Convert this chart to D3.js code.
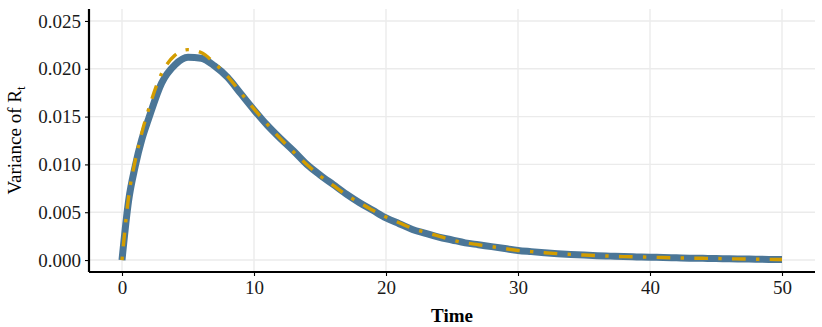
<!DOCTYPE html>
<html>
<head>
<meta charset="utf-8">
<script src="https://cdn.jsdelivr.net/npm/d3@7"></script>
<style>
  html, body { margin: 0; padding: 0; background: #fff; }
  svg { display: block; }
  text { font-family: "Liberation Serif", "Times New Roman", serif; }
</style>
</head>
<body>
<svg id="chart" width="822" height="327"></svg>
<script>
// Time points (days)
const time = [0, 0.5, 1, 1.5, 2, 3, 4, 5, 6, 7, 8, 9, 10, 11, 12, 13, 14, 15, 16, 17, 18, 19, 20,
  21, 22, 23, 24, 25, 26, 27, 28, 29, 30, 31, 32, 33, 34, 35, 36, 37, 38, 39, 40,
  41, 42, 43, 44, 45, 46, 47, 48, 49, 50];

// Variance of R_t: simulated (thick line)
const varSimulated = [0, 0.0062, 0.0098, 0.0126, 0.0147, 0.0185, 0.0204, 0.0212, 0.0211, 0.0203, 0.0191,
  0.0174, 0.0157, 0.0141, 0.0127, 0.0114, 0.0100, 0.0089, 0.0079, 0.0069, 0.0060, 0.0052, 0.0044,
  0.0038, 0.0032, 0.0028, 0.0024, 0.0021, 0.0018, 0.0016, 0.0014, 0.0012, 0.0010,
  0.00088, 0.00077, 0.00067, 0.00059, 0.00052, 0.00046, 0.00041, 0.00036, 0.00033, 0.00030,
  0.00026, 0.00023, 0.00020, 0.00018, 0.00016, 0.00013, 0.00011, 0.00009, 0.00007, 0.00006];

// Variance of R_t: analytic approximation (dot-dash line)
const varAnalytic = [0, 0.0066, 0.0104, 0.0133, 0.0157, 0.0195, 0.0214, 0.0220, 0.0217, 0.0206, 0.0192,
  0.0175, 0.0158, 0.0142, 0.0127, 0.0113, 0.0100, 0.0088, 0.0078, 0.0068, 0.0060, 0.0052, 0.0045,
  0.0039, 0.0033, 0.0029, 0.0025, 0.0021, 0.0018, 0.0016, 0.0014, 0.0012, 0.0010,
  0.00088, 0.00077, 0.00067, 0.00059, 0.00052, 0.00046, 0.00041, 0.00036, 0.00033, 0.00030,
  0.00026, 0.00023, 0.00020, 0.00018, 0.00016, 0.00013, 0.00011, 0.00009, 0.00007, 0.00006];

const xTicks = [0, 10, 20, 30, 40, 50];
const yTicks = [0, 0.005, 0.010, 0.015, 0.020, 0.025];

const svg = d3.select("#chart");
const panel = { left: 89, right: 815, top: 9, bottom: 272 };

const x = d3.scaleLinear().domain([-2.5, 52.5]).range([panel.left, panel.right]);
const y = d3.scaleLinear().domain([-0.00125, 0.02625]).range([panel.bottom, panel.top]);

// grid
const grid = svg.append("g");
grid.selectAll(".gx").data(xTicks).enter().append("line")
  .attr("x1", d => x(d)).attr("x2", d => x(d))
  .attr("y1", panel.top).attr("y2", panel.bottom)
  .attr("stroke", "#ebebeb").attr("stroke-width", 1.4);
grid.selectAll(".gy").data(yTicks).enter().append("line")
  .attr("x1", panel.left).attr("x2", panel.right)
  .attr("y1", d => y(d)).attr("y2", d => y(d))
  .attr("stroke", "#ebebeb").attr("stroke-width", 1.4);

const pts = (vals) => time.map((t, i) => [t, vals[i]]);
const line = d3.line().x(d => x(d[0])).y(d => y(d[1])).curve(d3.curveMonotoneX);

svg.append("path")
  .datum(pts(varSimulated))
  .attr("d", line)
  .attr("fill", "none")
  .attr("stroke", "#4b7697")
  .attr("stroke-width", 7)
  .attr("stroke-linejoin", "round");

svg.append("path")
  .datum(pts(varAnalytic))
  .attr("d", line)
  .attr("fill", "none")
  .attr("stroke", "#d39d00")
  .attr("stroke-width", 3.4)
  .attr("stroke-dasharray", "3.4,10.3,13.7,10.3");

// axes
const xAxis = d3.axisBottom(x).tickValues(xTicks).tickSize(4).tickPadding(5)
  .tickFormat(d3.format("d"));
const yAxis = d3.axisLeft(y).tickValues(yTicks).tickSize(4).tickPadding(4)
  .tickFormat(d3.format(".3f"));

const gx = svg.append("g").attr("transform", `translate(0,${panel.bottom})`).call(xAxis);
const gy = svg.append("g").attr("transform", `translate(${panel.left},0)`).call(yAxis);

[gx, gy].forEach(g => {
  g.select(".domain").remove();
  g.selectAll(".tick line").attr("stroke", "#000").attr("stroke-width", 1.1);
  g.selectAll(".tick text").attr("fill", "#1a1a1a")
    .style("font-family", "'Liberation Serif', serif").style("font-size", "19px");
});

svg.append("line")
  .attr("x1", panel.left).attr("x2", panel.right)
  .attr("y1", panel.bottom).attr("y2", panel.bottom)
  .attr("stroke", "#000").attr("stroke-width", 2.2);
svg.append("line")
  .attr("x1", panel.left).attr("x2", panel.left)
  .attr("y1", panel.top).attr("y2", panel.bottom)
  .attr("stroke", "#000").attr("stroke-width", 2.2);

// axis titles
svg.append("text")
  .attr("x", (panel.left + panel.right) / 2)
  .attr("y", 322)
  .attr("text-anchor", "middle")
  .style("font-size", "19px").style("font-weight", "bold")
  .text("Time");

const yt = svg.append("text")
  .attr("transform", `translate(21,${(panel.top + panel.bottom) / 2}) rotate(-90)`)
  .attr("text-anchor", "middle")
  .style("font-size", "19px");
yt.append("tspan").text("Variance of R");
yt.append("tspan").attr("dy", 4).style("font-size", "13px").text("t");
</script>
</body>
</html>
